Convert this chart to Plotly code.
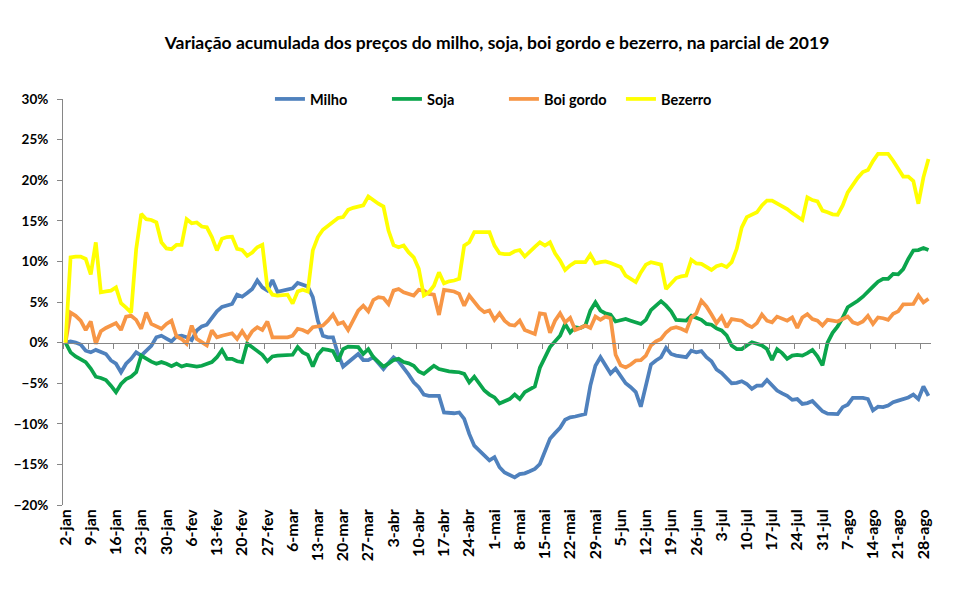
import pandas as pd
import plotly.graph_objects as go

MESES = ["jan", "fev", "mar", "abr", "mai", "jun", "jul", "ago", "set", "out", "nov", "dez"]
datas = pd.bdate_range("2019-01-02", "2019-08-29")
rotulos = [f"{d.day}-{MESES[d.month - 1]}" for d in datas]

milho = [
    0, 0.15, 0, -0.25, -1.0, -1.2, -0.9, -1.2, -1.4, -2.2,
    -2.6, -3.65, -2.6, -2.0, -1.2, -1.6, -1.0, -0.4, 0.65, 0.85,
    0.5, 0.15, 0.75, 0.85, 0.65, 0.3, 1.5, 2.0, 2.2, 3.1,
    3.85, 4.4, 4.55, 4.75, 5.9, 5.65, 6.1, 6.6, 7.65, 6.8,
    6.4, 7.7, 6.25, 6.4, 6.5, 6.7, 7.35, 7.15, 6.9, 5.6,
    2.7, 0.85, 0.65, 0.65, -1.4, -2.95, -2.4, -1.8, -1.4, -2.15,
    -2.15, -1.8, -2.55, -3.25, -2.5, -1.8, -2.3, -3.05, -3.95, -4.9,
    -5.5, -6.4, -6.55, -6.55, -6.55, -8.6, -8.7, -8.7, -8.6, -9.4,
    -11.25, -12.7, -13.3, -13.9, -14.5, -14.1, -15.35, -16.0, -16.25, -16.6,
    -16.2, -16.1, -15.85, -15.55, -14.95, -13.5, -11.85, -11.15, -10.5, -9.5,
    -9.2, -9.1, -9.0, -8.8, -5.3, -2.85, -1.8, -2.7, -3.8, -3.2,
    -4.2, -5.0, -5.5, -6.1, -7.9, -5.5, -2.7, -2.2, -1.8, -0.65,
    -1.4, -1.6, -1.7, -1.8, -1.0, -1.2, -1.05, -1.8, -2.3, -3.3,
    -3.75, -4.3, -5.0, -4.95, -4.75, -5.1, -5.7, -5.3, -5.3, -4.6,
    -5.3, -5.9, -6.25, -6.55, -7.05, -6.95, -7.55, -7.45, -7.2, -7.75,
    -8.45, -8.75, -8.8, -8.8, -7.95, -7.65, -6.8, -6.75, -6.8, -6.95,
    -8.35, -7.9, -7.95, -7.75, -7.35, -7.15, -6.95, -6.75, -6.4, -6.95,
    -5.4, -6.55,
]

soja = [
    0, -1.2, -1.7, -2.1, -2.4, -3.2, -4.2, -4.35, -4.6, -5.3,
    -6.1, -5.1, -4.5, -4.2, -3.65, -1.6, -2.0, -2.35, -2.6, -2.4,
    -2.6, -2.9, -2.6, -2.95, -2.75, -2.9, -2.95, -2.85, -2.6, -2.4,
    -1.8, -0.9, -2.0, -2.0, -2.3, -2.4, -0.1, -0.55, -1.05, -1.5,
    -2.3, -1.7, -1.6, -1.6, -1.6, -1.5, -0.55, -1.2, -1.5, -2.95,
    -1.5, -0.8, -0.9, -1.05, -2.3, -0.8, -0.5, -0.5, -0.55, -1.4,
    -0.8, -1.8, -2.4, -2.95, -2.6, -2.15, -2.0, -2.4, -2.55, -2.85,
    -3.55, -3.85, -3.35, -2.85, -3.25, -3.45, -3.55, -3.6, -3.65, -3.85,
    -4.9, -4.2, -5.1, -5.9, -6.4, -6.75, -7.5, -7.2, -6.95, -6.4,
    -6.95, -6.1, -5.7, -5.4, -3.1, -1.8, -0.55, 0.15, 0.85, 2.3,
    1.25, 1.9, 1.8, 2.1, 3.95, 4.95, 3.95, 3.6, 3.45, 2.6,
    2.8, 2.9, 2.7, 2.5, 2.3, 2.8, 4.0, 4.55, 5.1, 4.55,
    3.85, 2.8, 2.7, 2.7, 3.3, 3.05, 2.8, 2.3, 2.2, 1.75,
    1.5, 0.9, -0.35, -0.8, -0.8, -0.35, 0.05, -0.15, -0.35, -0.8,
    -2.15, -0.8, -1.3, -2.0, -1.6, -1.5, -1.6, -1.3, -0.9, -1.7,
    -2.8, 0.0, 1.2, 2.0, 3.05, 4.35, 4.7, 5.15, 5.65, 6.2,
    6.9, 7.5, 7.85, 7.85, 8.45, 8.4, 9.05, 10.3, 11.35, 11.4,
    11.65, 11.4,
]

boi_gordo = [
    0, 3.7, 3.3, 2.7, 1.55, 2.6, -0.15, 1.4, 1.8, 2.1,
    2.4, 1.55, 3.2, 3.3, 2.8, 1.7, 3.7, 2.3, 2.0, 1.7,
    2.3, 2.7, 0.75, 0.45, -0.15, 2.1, 0.45, 0.05, -0.35, 1.5,
    0.65, 0.85, 1.05, 1.15, 0.45, 1.4, 0.45, 1.4, 1.9, 1.55,
    2.6, 0.65, 0.65, 0.65, 0.65, 0.85, 1.7, 1.55, 1.25, 1.9,
    2.0, 2.1, 2.7, 3.45, 2.3, 2.5, 1.55, 2.7, 3.95, 4.55,
    3.85, 5.25, 5.6, 5.5, 4.75, 6.4, 6.6, 6.2, 6.0, 5.8,
    6.5, 6.4, 6.0, 5.9, 3.4, 6.5, 6.4, 6.3, 6.0, 4.55,
    5.8, 5.0, 4.25, 3.75, 3.95, 2.8, 3.6, 2.7, 2.2, 2.1,
    2.7, 1.55, 1.25, 1.05, 3.6, 3.5, 1.2, 2.7, 3.6, 2.5,
    3.05, 1.55, 1.8, 2.1, 1.8, 3.2, 2.8, 3.2, 3.0, -1.5,
    -2.8, -3.05, -2.7, -2.2, -2.15, -1.6, -0.35, 0.15, 0.45, 1.25,
    1.75, 1.9, 1.7, 1.4, 3.1, 3.6, 5.15, 4.45, 3.45, 2.4,
    3.2, 1.9, 2.9, 2.85, 2.7, 2.2, 1.9, 2.4, 3.45, 2.7,
    2.5, 3.2, 2.9, 2.7, 3.1, 1.8, 3.1, 3.5, 2.9, 2.7,
    2.1, 2.8, 2.7, 2.6, 2.9, 3.2, 2.5, 2.3, 2.6, 3.3,
    2.3, 3.1, 3.0, 2.8, 3.55, 3.85, 4.7, 4.7, 4.75, 5.8,
    4.95, 5.4,
]

bezerro = [
    0, 10.5, 10.6, 10.6, 10.3, 8.4, 12.35, 6.2, 6.3, 6.4,
    6.8, 4.85, 4.3, 3.7, 11.5, 15.85, 15.2, 15.1, 14.8, 12.35,
    11.6, 11.5, 12.05, 12.05, 15.2, 14.7, 14.8, 14.3, 14.2, 13.0,
    11.35, 12.8, 13.0, 13.05, 11.55, 11.4, 10.7, 11.1, 11.75, 12.05,
    6.8, 5.9, 5.8, 5.85, 5.9, 4.8, 6.3, 6.5, 6.3, 11.35,
    13.0, 13.9, 14.4, 14.8, 15.35, 15.45, 16.35, 16.6, 16.75, 16.9,
    18.0, 17.5, 17.1, 16.75, 13.8, 12.0, 11.75, 11.95, 11.1, 10.5,
    9.1, 5.8, 6.2, 7.0, 8.65, 7.3, 7.55, 7.65, 7.85, 11.95,
    12.35, 13.6, 13.6, 13.6, 13.6, 11.95, 11.0, 10.9, 10.9, 11.25,
    11.4, 10.6, 11.25, 11.8, 12.35, 11.95, 12.35, 11.0, 10.1, 8.95,
    9.5, 9.9, 9.9, 9.9, 10.85, 9.75, 9.9, 10.0, 9.8, 9.6,
    9.3, 8.25, 7.85, 7.45, 8.65, 9.6, 9.9, 9.75, 9.6, 6.6,
    7.3, 7.95, 8.15, 8.25, 10.2, 9.75, 9.7, 9.3, 8.95, 9.4,
    9.6, 9.3, 9.9, 11.55, 14.2, 15.45, 15.75, 16.05, 16.9, 17.5,
    17.5, 17.15, 16.75, 16.45, 15.95, 15.5, 15.1, 17.9, 17.55, 17.4,
    16.25, 16.05, 15.8, 15.75, 16.9, 18.5, 19.45, 20.3, 21.0, 21.25,
    22.35, 23.25, 23.25, 23.25, 22.4, 21.4, 20.45, 20.45, 19.9, 17.1,
    20.35, 22.6,
]

series = [
    ("Milho", milho, "#4F81BD"),
    ("Soja", soja, "#0BA54C"),
    ("Boi gordo", boi_gordo, "#F79646"),
    ("Bezerro", bezerro, "#FFFF00"),
]

idx = list(range(len(rotulos)))
FONT = "Lato"
GRAY = "#868686"

fig = go.Figure()
for nome, valores, cor in series:
    fig.add_trace(go.Scatter(
        x=idx, y=valores, name=nome, mode="lines",
        line=dict(color=cor, width=3.75), hoverinfo="skip",
    ))
# placeholder trace so the zero-line axis (x2) is drawn
fig.add_trace(go.Scatter(x=[], y=[], xaxis="x2", showlegend=False, hoverinfo="skip"))

n = len(idx)
fig.update_layout(
    width=961, height=593,
    margin=dict(l=63, r=30, t=99, b=88),
    paper_bgcolor="white", plot_bgcolor="white",
    title=dict(
        text="Variação acumulada dos preços do milho, soja, boi gordo e bezerro, na parcial de 2019",
        x=0.5, xref="paper", xanchor="center",
        y=1 - 43 / 593, yref="container", yanchor="middle",
        font=dict(family=FONT, size=17.5, color="black", weight="bold"),
    ),
    showlegend=True,
    legend=dict(
        orientation="h", x=0.508, xanchor="center", y=1.0, yanchor="middle",
        font=dict(family=FONT, size=14.5, color="black", weight="bold"),
        entrywidth=72, bgcolor="rgba(0,0,0,0)",
    ),
    xaxis=dict(
        range=[-0.5, n - 0.5], tickmode="array",
        tickvals=idx[::5], ticktext=rotulos[::5], tickangle=-90,
        showgrid=False, zeroline=False, showline=False, ticks="",
        tickfont=dict(family=FONT, size=16, color="black", weight="bold"),
    ),
    xaxis2=dict(
        overlaying="x", anchor="free", position=0.4, side="bottom",
        range=[-0.5, n - 0.5], tickmode="array",
        tickvals=[i - 0.5 for i in idx[::5]],
        showticklabels=False, ticks="outside", ticklen=5, tickcolor=GRAY,
        showline=True, linecolor=GRAY, linewidth=1,
        showgrid=False, zeroline=False,
    ),
    yaxis=dict(
        range=[-20, 30], dtick=5, tick0=0, ticksuffix="%",
        showgrid=False, zeroline=False, showline=True, linecolor=GRAY, linewidth=1,
        ticks="outside", ticklen=5, tickcolor=GRAY, ticklabelstandoff=6,
        tickfont=dict(family=FONT, size=13.5, color="black", weight="bold"),
    ),
)

fig.write_html("out.html")
